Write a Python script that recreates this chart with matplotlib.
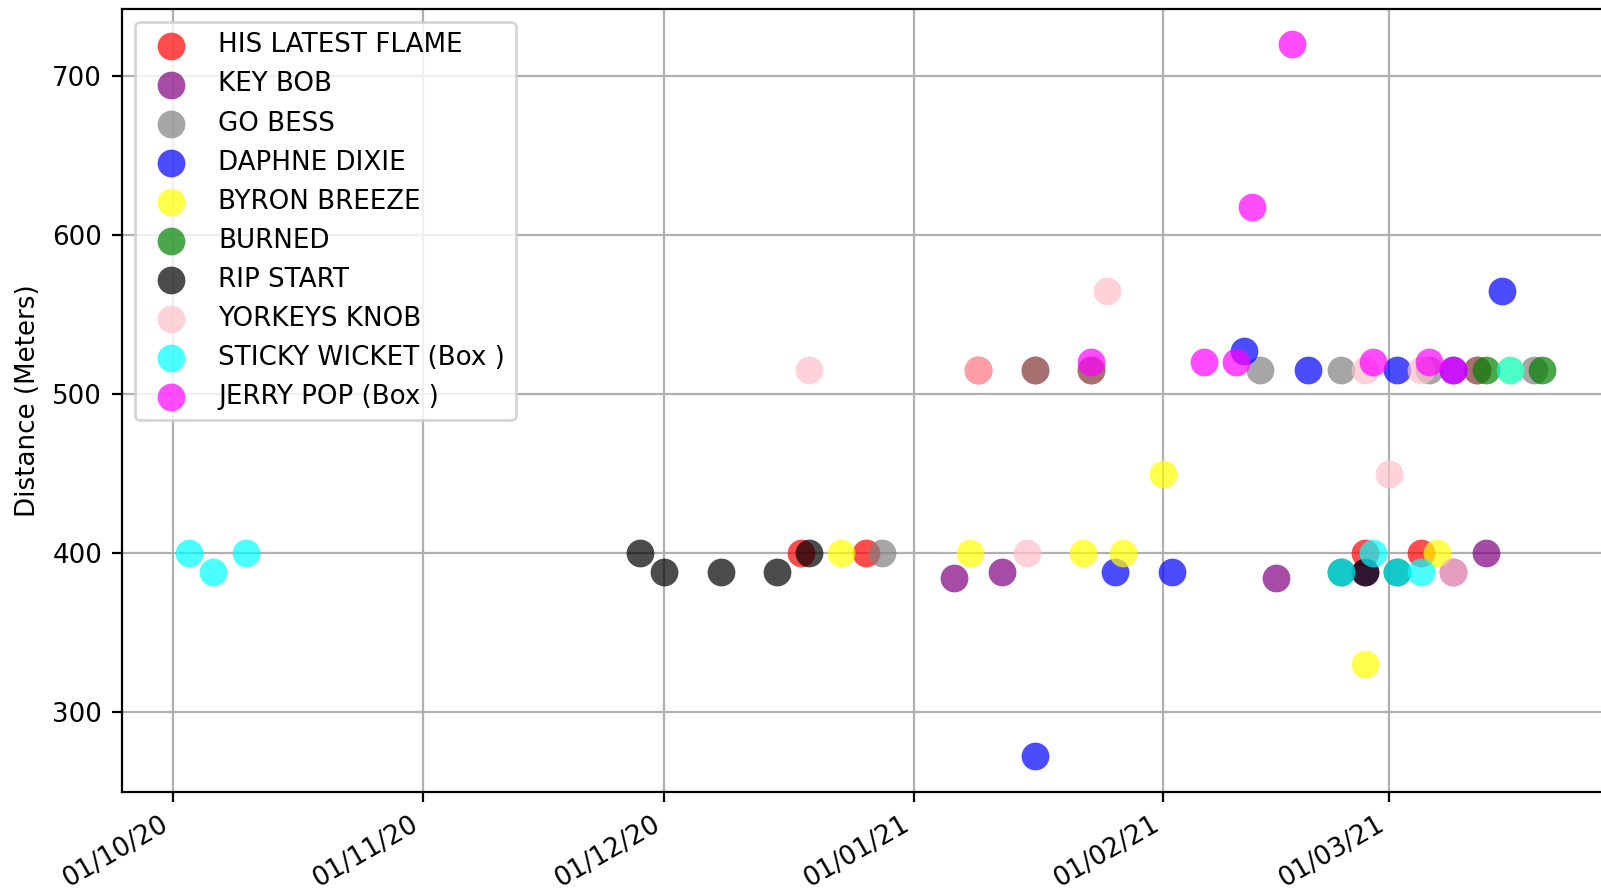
import pandas as pd
import matplotlib
matplotlib.use('Agg')
import matplotlib.pyplot as plt
import matplotlib.dates as mdates

plt.rcParams['font.size'] = 9.4

# du lieu: ngay chay va cu ly cho tung con cho
horses = ['HIS LATEST FLAME', 'KEY BOB', 'GO BESS', 'DAPHNE DIXIE', 'BYRON BREEZE',
          'BURNED', 'RIP START', 'YORKEYS KNOB', 'STICKY WICKET (Box )', 'JERRY POP (Box )']
colors = ['red', 'purple', 'gray', 'blue', 'yellow', 'green', 'black', 'pink', 'cyan', 'magenta']

flame_dates = ['2020-12-18', '2020-12-26', '2021-01-09', '2021-01-16', '2021-01-23',
               '2021-02-26', '2021-03-05', '2021-03-12']
flame_dist = [400, 400, 515, 515, 515, 400, 400, 515]

keybob_dates = ['2021-01-06', '2021-01-12', '2021-02-15', '2021-02-26', '2021-03-09', '2021-03-13']
keybob_dist = [384, 388, 384, 388, 388, 400]

gobess_dates = ['2020-12-28', '2021-01-16', '2021-01-23', '2021-02-13', '2021-02-23',
                '2021-03-06', '2021-03-12', '2021-03-19']
gobess_dist = [400, 515, 515, 515, 515, 515, 515, 515]

daphne_dates = ['2021-01-16', '2021-01-26', '2021-02-02', '2021-02-11', '2021-02-19',
                '2021-03-02', '2021-03-09', '2021-03-15']
daphne_dist = [272, 388, 388, 527, 515, 515, 515, 565]

byron_dates = ['2020-12-23', '2021-01-08', '2021-01-22', '2021-01-27', '2021-02-01',
               '2021-02-26', '2021-03-07', '2021-03-16']
byron_dist = [400, 400, 400, 400, 450, 330, 400, 515]

burned_dates = ['2021-03-13', '2021-03-20']
burned_dist = [515, 515]

rip_dates = ['2020-11-28', '2020-12-01', '2020-12-08', '2020-12-15', '2020-12-19',
             '2021-02-23', '2021-02-26', '2021-03-02']
rip_dist = [400, 388, 388, 388, 400, 388, 388, 388]

yorkeys_dates = ['2020-12-19', '2021-01-09', '2021-01-15', '2021-01-25', '2021-02-26',
                 '2021-03-01', '2021-03-05', '2021-03-09']
yorkeys_dist = [515, 515, 400, 565, 515, 450, 515, 388]

sticky_dates = ['2020-10-03', '2020-10-06', '2020-10-10', '2021-02-23', '2021-02-27',
                '2021-03-02', '2021-03-05', '2021-03-16']
sticky_dist = [400, 388, 400, 388, 400, 388, 388, 515]

jerry_dates = ['2021-01-23', '2021-02-06', '2021-02-10', '2021-02-12', '2021-02-17',
               '2021-02-27', '2021-03-06', '2021-03-09']
jerry_dist = [520, 520, 520, 618, 720, 520, 520, 515]

all_dates = [flame_dates, keybob_dates, gobess_dates, daphne_dates, byron_dates,
             burned_dates, rip_dates, yorkeys_dates, sticky_dates, jerry_dates]
all_dist = [flame_dist, keybob_dist, gobess_dist, daphne_dist, byron_dist,
            burned_dist, rip_dist, yorkeys_dist, sticky_dist, jerry_dist]

fig = plt.figure(figsize=(16.01 / 2, 8.9 / 2), dpi=200)
# anh goc bi cat o ben phai nen truc keo dai qua mep hinh
ax = fig.add_axes([0.076, 0.110, 0.9293, 0.880])

for name, col, d, dist in zip(horses, colors, all_dates, all_dist):
    ax.scatter(pd.to_datetime(d), dist, color=col, s=100, alpha=0.7,
               linewidths=0, label=name, zorder=3)

ax.xaxis.set_major_locator(mdates.MonthLocator())
ax.xaxis.set_major_formatter(mdates.DateFormatter('%d/%m/%y'))
plt.setp(ax.get_xticklabels(), rotation=30, ha='right')
ax.set_ylabel('Distance (Meters)')
ax.grid(True, zorder=0)
ax.set_axisbelow(True)
ax.legend(loc='upper left')

plt.savefig('out.png', dpi=200)
